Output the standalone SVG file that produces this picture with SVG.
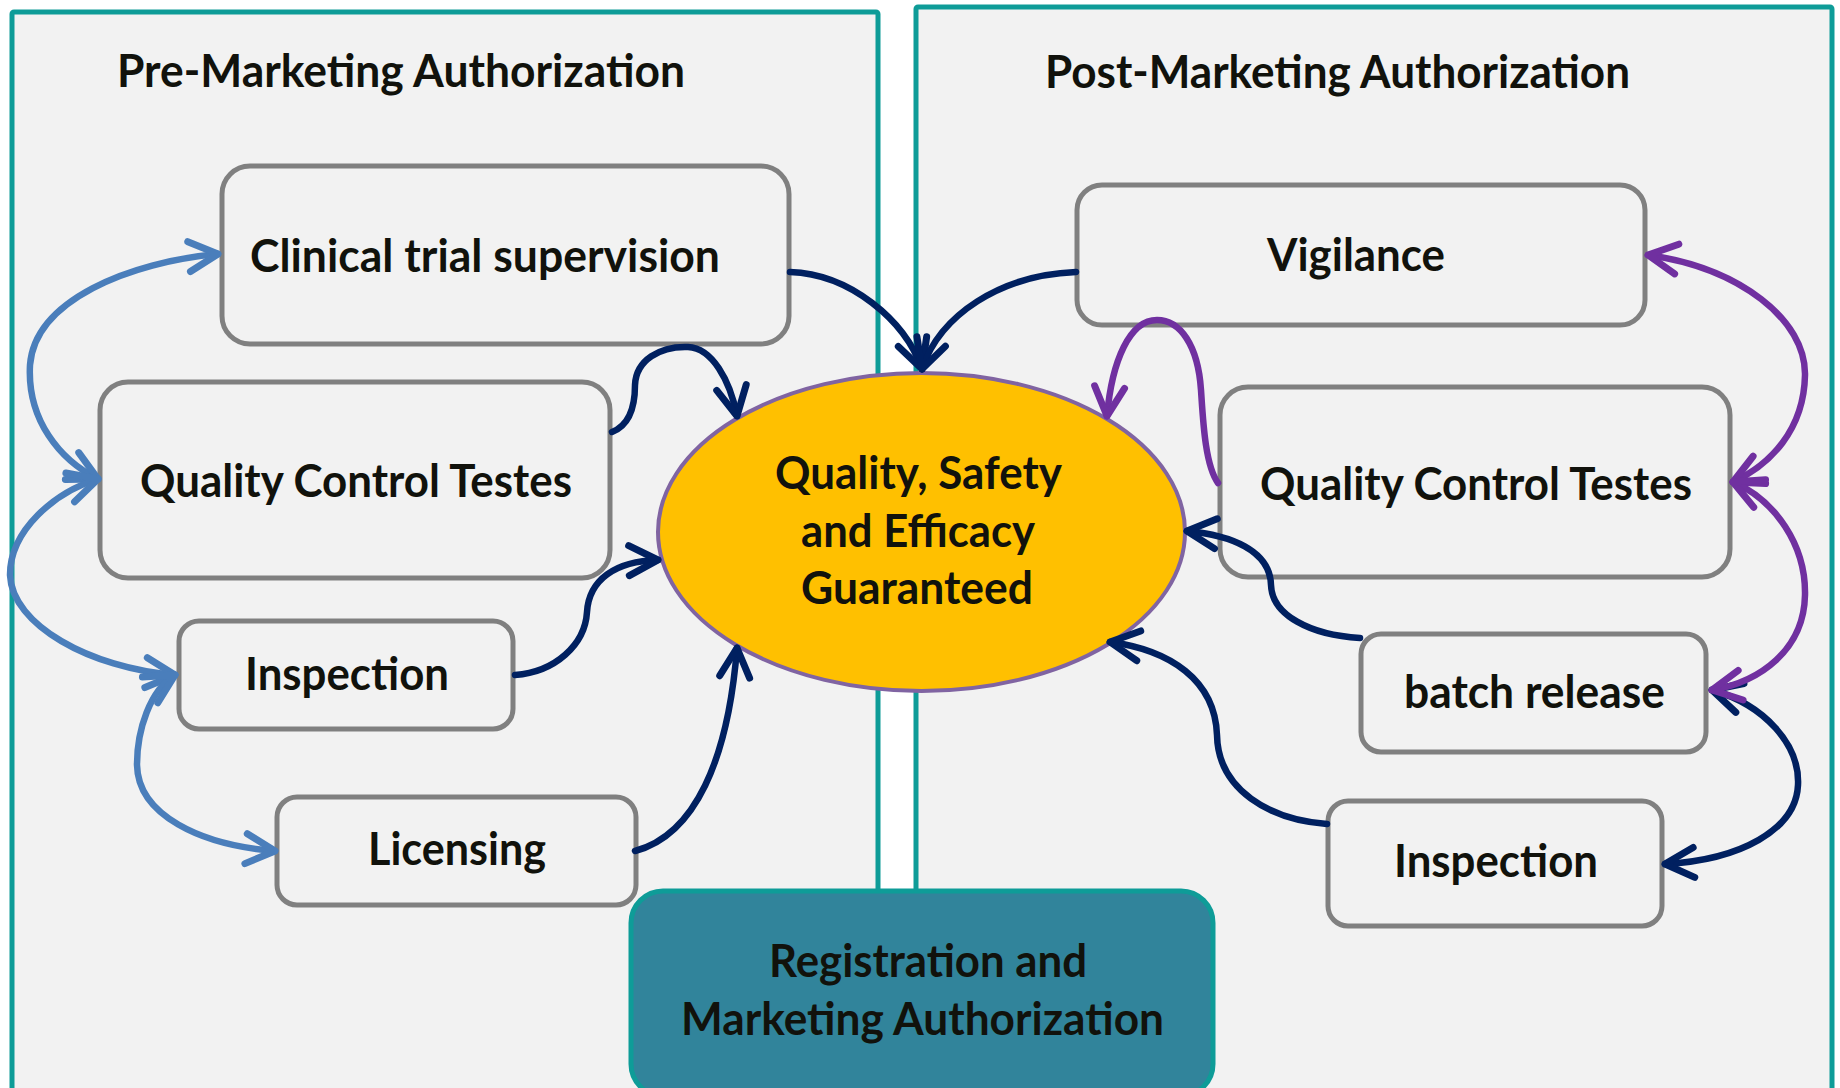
<svg xmlns="http://www.w3.org/2000/svg" width="1840" height="1088" viewBox="0 0 1840 1088">
<defs>
<style>
.panel{fill:#F2F2F2;stroke:#0E9C98;stroke-width:5}
.box{fill:#F2F2F2;stroke:#808080;stroke-width:5}
.t{font-family:Lato,"Open Sans","Liberation Sans",sans-serif;font-weight:700;font-size:45px;fill:#11120C}
.c{fill:none;stroke-width:6.5;stroke-linecap:round}
.navy{stroke:#002060}
.purple{stroke:#7030A0}
.blue{stroke:#4A7EBB}
</style>
<marker id="aN" viewBox="-36 -22 44 44" markerWidth="44" markerHeight="44" markerUnits="userSpaceOnUse" refX="0" refY="0" orient="auto-start-reverse"><path d="M-29,-15 L0,0 L-29,15" fill="none" stroke="#002060" stroke-width="7" stroke-linecap="round" stroke-linejoin="round"/></marker>
<marker id="aP" viewBox="-36 -22 44 44" markerWidth="44" markerHeight="44" markerUnits="userSpaceOnUse" refX="0" refY="0" orient="auto-start-reverse"><path d="M-29,-15 L0,0 L-29,15" fill="none" stroke="#7030A0" stroke-width="7" stroke-linecap="round" stroke-linejoin="round"/></marker>
<marker id="aB" viewBox="-36 -22 44 44" markerWidth="44" markerHeight="44" markerUnits="userSpaceOnUse" refX="0" refY="0" orient="auto-start-reverse"><path d="M-29,-15 L0,0 L-29,15" fill="none" stroke="#4A7EBB" stroke-width="7" stroke-linecap="round" stroke-linejoin="round"/></marker>
</defs>
<rect x="0" y="0" width="1840" height="1088" fill="#FFFFFF"/>

<g id="panel-pre">
<rect class="panel" x="12" y="12" width="866" height="1095" rx="2"/>
<text class="t" x="117" y="87" textLength="568" lengthAdjust="spacingAndGlyphs">Pre-Marketing Authorization</text>
</g>
<g id="panel-post">
<rect class="panel" x="916" y="7" width="916" height="1100" rx="2"/>
<text class="t" x="1045" y="88" textLength="585" lengthAdjust="spacingAndGlyphs">Post-Marketing Authorization</text>
</g>

<g id="node-clinical">
<rect class="box" x="222" y="166" width="567" height="178" rx="28"/>
<text class="t" x="250" y="272" textLength="470" lengthAdjust="spacingAndGlyphs">Clinical trial supervision</text>
</g>
<g id="node-qc-pre">
<rect class="box" x="100" y="382" width="510" height="196" rx="28"/>
<text class="t" x="140" y="497" textLength="432" lengthAdjust="spacingAndGlyphs">Quality Control Testes</text>
</g>
<g id="node-inspection-pre">
<rect class="box" x="179" y="621" width="334" height="108" rx="20"/>
<text class="t" x="245" y="690" textLength="204" lengthAdjust="spacingAndGlyphs">Inspection</text>
</g>
<g id="node-licensing">
<rect class="box" x="277" y="797" width="359" height="108" rx="20"/>
<text class="t" x="368" y="865" textLength="178" lengthAdjust="spacingAndGlyphs">Licensing</text>
</g>
<g id="node-vigilance">
<rect class="box" x="1077" y="185" width="568" height="140" rx="25"/>
<text class="t" x="1267" y="271" textLength="178" lengthAdjust="spacingAndGlyphs">Vigilance</text>
</g>
<g id="node-qc-post">
<rect class="box" x="1220" y="387" width="510" height="190" rx="28"/>
<text class="t" x="1260" y="500" textLength="432" lengthAdjust="spacingAndGlyphs">Quality Control Testes</text>
</g>
<g id="node-batch">
<rect class="box" x="1361" y="634" width="345" height="118" rx="20"/>
<text class="t" x="1404" y="708" textLength="261" lengthAdjust="spacingAndGlyphs">batch release</text>
</g>
<g id="node-inspection-post">
<rect class="box" x="1328" y="801" width="334" height="125" rx="20"/>
<text class="t" x="1394" y="877" textLength="204" lengthAdjust="spacingAndGlyphs">Inspection</text>
</g>
<g id="node-center">
<ellipse cx="921.5" cy="532" rx="263.5" ry="159" fill="#FFC000" stroke="#8064A2" stroke-width="4"/>
<text class="t" x="775" y="489" textLength="287" lengthAdjust="spacingAndGlyphs">Quality, Safety</text>
<text class="t" x="801" y="547" textLength="234" lengthAdjust="spacingAndGlyphs">and Efficacy</text>
<text class="t" x="801" y="604" textLength="232" lengthAdjust="spacingAndGlyphs">Guaranteed</text>
</g>
<g id="node-registration">
<rect x="631" y="891" width="582" height="205" rx="32" fill="#31849B" stroke="#0E9C98" stroke-width="5"/>
<text class="t" x="769" y="977" textLength="318" lengthAdjust="spacingAndGlyphs">Registration and</text>
<text class="t" x="681" y="1035" textLength="483" lengthAdjust="spacingAndGlyphs">Marketing Authorization</text>
</g>

<g id="connectors">
<path class="c navy" marker-end="url(#aN)" d="M790,272 C850,274 905,320 922,369"/>
<path class="c navy" marker-end="url(#aN)" d="M1076,272 C1000,275 940,315 922,369"/>
<path class="c navy" marker-end="url(#aN)" d="M612,432 C630,425 635,405 635,385 C636,360 660,346 688,347 C712,348 730,380 737,416"/>
<path class="c navy" marker-end="url(#aN)" d="M515,675 C555,672 585,645 587,612 C589,580 615,561 658,560"/>
<path class="c navy" marker-end="url(#aN)" d="M635,851 C695,835 728,760 737,648"/>
<path class="c navy" marker-end="url(#aN)" d="M1360,638 C1310,635 1272,615 1271,585 C1270,550 1230,535 1187,531"/>
<path class="c navy" marker-end="url(#aN)" d="M1327,824 C1270,820 1218,790 1217,735 C1215,680 1170,650 1110,642"/>
<path class="c navy" marker-start="url(#aN)" marker-end="url(#aN)" d="M1712,690 C1765,705 1800,745 1798,785 C1796,830 1740,860 1665,864"/>
<path class="c purple" marker-end="url(#aP)" d="M1218,483 C1205,465 1203,420 1201,390 C1198,345 1180,320 1157,320 C1130,320 1112,360 1107,416"/>
<path class="c purple" marker-start="url(#aP)" marker-end="url(#aP)" d="M1648,255 C1740,268 1806,320 1805,375 C1804,430 1770,465 1733,482"/>
<path class="c purple" marker-start="url(#aP)" marker-end="url(#aP)" d="M1733,482 C1775,500 1806,545 1805,595 C1804,650 1760,682 1712,690"/>
<path class="c blue" marker-start="url(#aB)" marker-end="url(#aB)" d="M218,254 C130,262 35,300 30,365 C27,420 60,460 98,479"/>
<path class="c blue" marker-start="url(#aB)" marker-end="url(#aB)" d="M98,479 C55,492 10,530 10,575 C12,625 90,668 175,675"/>
<path class="c blue" marker-start="url(#aB)" marker-end="url(#aB)" d="M175,675 C150,690 137,730 137,765 C138,815 200,845 275,851"/>
</g>
</svg>
